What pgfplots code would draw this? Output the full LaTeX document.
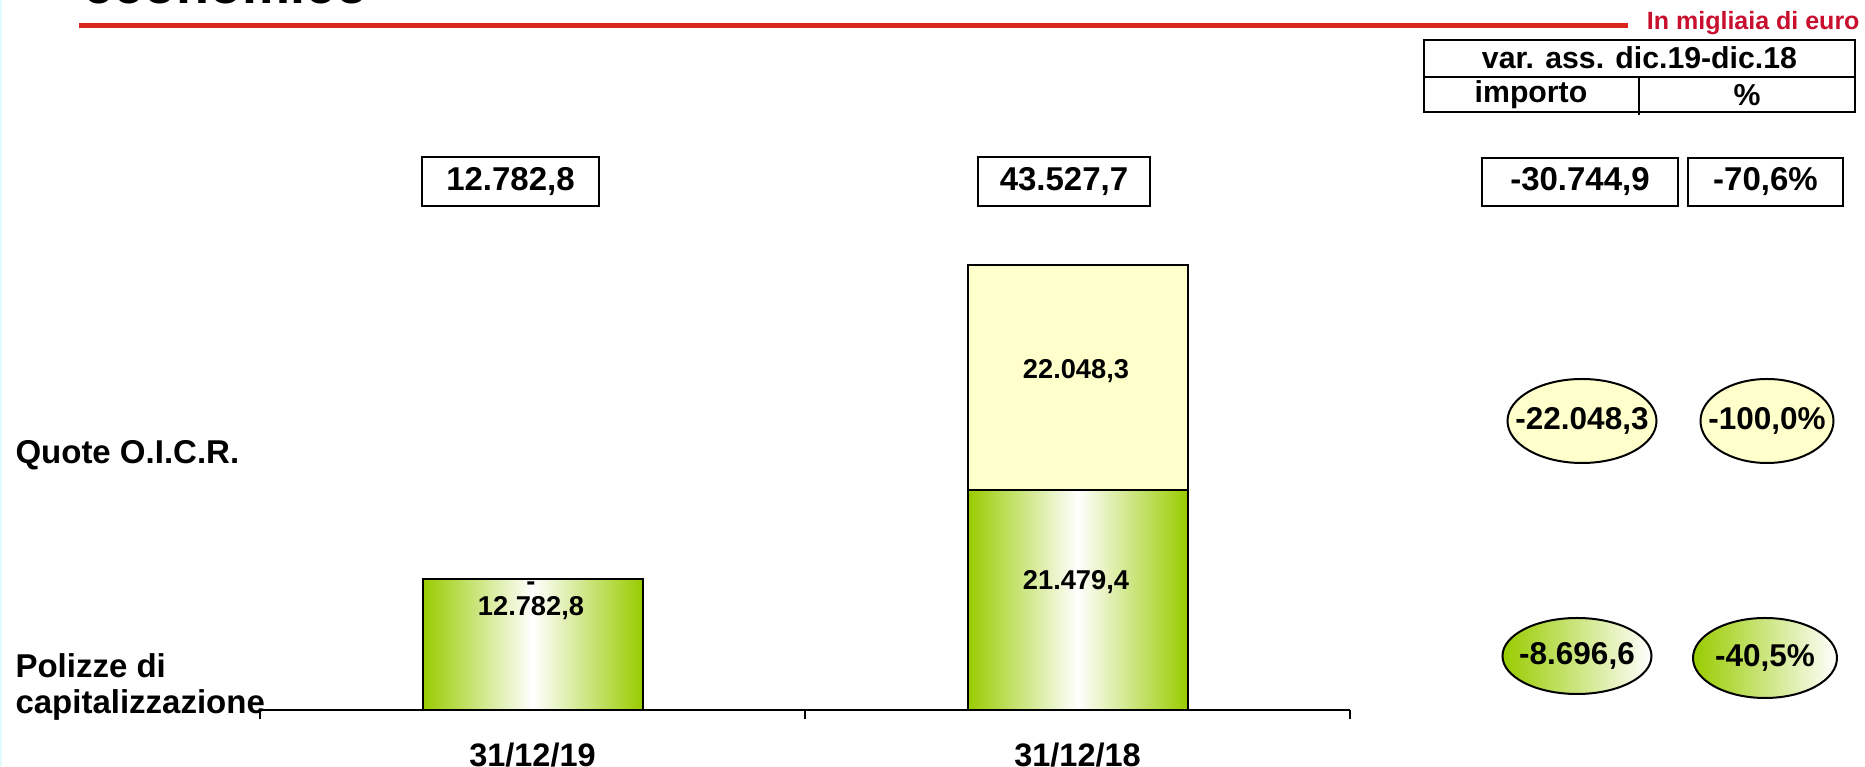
\documentclass[border=0pt]{standalone}
\usepackage{pgfplots}
\pgfplotsset{compat=1.18}
\usepackage{fontspec}
\setmainfont{Liberation Sans}
\definecolor{barG}{RGB}{153,204,0}
\definecolor{barY}{RGB}{255,255,204}
\definecolor{lineR}{RGB}{218,37,29}
\definecolor{txtR}{RGB}{200,16,46}
\definecolor{edgeC}{RGB}{225,252,252}
\newcommand\fA{\fontsize{13.2}{15.8}\selectfont\bfseries}
\newcommand\fX{\fontsize{13}{15.6}\selectfont\bfseries}
\newcommand\fB{\fontsize{12.6}{15}\selectfont\bfseries}
\newcommand\fE{\fontsize{12.1}{14.5}\selectfont\bfseries}
\newcommand\fC{\fontsize{10.9}{13}\selectfont\bfseries}
\newcommand\fD{\fontsize{10}{12}\selectfont\bfseries}
\newcommand\fT{\fontsize{21.6}{26}\selectfont\bfseries}
\pgfplotsset{
  barbase/.style={
    at={(104pt,-284pt)}, anchor=south west,
    scale only axis, width=436pt, height=184pt,
    xmin=-0.5, xmax=1.5, ymin=0, ymax=45000,
    bar width=88pt, clip=false,
  },
}
\begin{document}
\begin{tikzpicture}
\begin{scope}[x=0.4pt,y=-0.4pt]
\clip (0,0) rectangle (1865,767);
\fill[edgeC] (0,0) rectangle (2.5,767);
% title remnant (cut at the top edge)
\node[anchor=base west, inner sep=0pt, font=\fT] at (83,3.5) {economico};
\draw[lineR, line width=2pt] (79,25.5) -- (1628,25.5);
\node[anchor=base east, inner sep=0pt, font=\fD, text=txtR] at (1860,30) {In migliaia di euro};
% table
\draw[line width=1.1pt] (1424,40) rectangle (1855,112);
\draw[line width=1.1pt] (1424,77) -- (1855,77);
\draw[line width=1.1pt] (1639,77) -- (1639,115);
\node[font=\fE] at (1639.5,58) {var. ass. dic.19-dic.18};
\node[font=\fE] at (1531,95) {importo};
\node[font=\fE] at (1747,95) {\%};
% top boxes
\draw[line width=1pt] (422,157) rectangle (599,206);
\node[font=\fA] at (510.5,182) {12.782,8};
\draw[line width=1pt] (978,157) rectangle (1150,206);
\node[font=\fA] at (1064,182) {43.527,7};
\draw[line width=1pt] (1482,158) rectangle (1678,206);
\node[font=\fA] at (1580,182) {-30.744,9};
\draw[line width=1pt] (1688,158) rectangle (1843,206);
\node[font=\fA] at (1765.5,182) {-70,6\%};
% row labels
\node[anchor=base west, inner sep=0pt, font=\fA] at (15,464) {Quote O.I.C.R.};
\node[anchor=base west, inner sep=0pt, font=\fA] at (15,678) {Polizze di};
\node[anchor=base west, inner sep=0pt, font=\fA] at (15,714) {capitalizzazione};
% ellipses
\draw[line width=0.8pt, fill=barY] (1582,421) ellipse [x radius=74.5, y radius=42];
\node[font=\fB] at (1582,421) {-22.048,3};
\draw[line width=0.8pt, fill=barY] (1767,421) ellipse [x radius=66.5, y radius=42];
\node[font=\fB] at (1767,421) {-100,0\%};
\draw[line width=0.8pt, left color=barG, right color=white] (1577,656) ellipse [x radius=74.5, y radius=38];
\node[font=\fB] at (1577,656) {-8.696,6};
\draw[line width=0.8pt, left color=barG, right color=white] (1765,658) ellipse [x radius=72, y radius=40];
\node[font=\fB] at (1765,658) {-40,5\%};
\end{scope}
% stacked bar 31/12/18
\begin{axis}[barbase, ybar stacked, hide axis]
\addplot[draw=black, line width=0.8pt, left color=barG, right color=barG, middle color=white]
  coordinates {(1,21479.4)};
\addplot[draw=black, line width=0.8pt, fill=barY]
  coordinates {(1,22048.3)};
\end{axis}
% bar 31/12/19 and category axis
\begin{axis}[barbase, ybar, bar shift=0pt,
  axis x line*=bottom, axis y line=none, ytick=\empty,
  xtick={0,1}, xticklabels={31/12/19,31/12/18},
  major tick length=0pt,
  extra x ticks={-0.5,0.5,1.5}, extra x tick labels={},
  extra x tick style={major tick length=3.6pt, tick align=outside, tick style={line width=0.6pt, black}},
  x axis line style={line width=0.8pt, black, -},
  xticklabel style={font=\fX, yshift=-9.6pt},
]
\addplot[draw=black, line width=0.8pt, left color=barG, right color=barG, middle color=white]
  coordinates {(0,12782.8)};
\end{axis}
\begin{scope}[x=0.4pt,y=-0.4pt]
\node[font=\fC, anchor=base, inner sep=0pt] at (531,591) {-};
\node[font=\fC] at (531,608) {12.782,8};
\node[font=\fC] at (1076,582) {21.479,4};
\node[font=\fC] at (1076,371) {22.048,3};
\end{scope}
\pgfresetboundingbox
\path[use as bounding box] (0,0) rectangle (746pt,-306.8pt);
\end{tikzpicture}
\end{document}
